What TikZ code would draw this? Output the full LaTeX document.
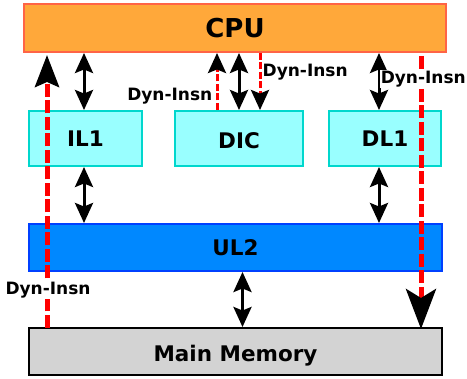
\documentclass[tikz,border=0pt]{standalone}
\usepackage{fontspec}
\setmainfont{DejaVu Sans}
\usetikzlibrary{arrows.meta}
\definecolor{cpufill}{RGB}{255,168,58}
\definecolor{cpuline}{RGB}{255,100,70}
\definecolor{l1fill}{RGB}{153,255,255}
\definecolor{l1line}{RGB}{0,215,205}
\definecolor{l2fill}{RGB}{0,136,255}
\definecolor{l2line}{RGB}{0,64,255}
\definecolor{memfill}{RGB}{211,211,211}
\definecolor{dynred}{RGB}{255,0,0}
\begin{document}
\begin{tikzpicture}[x=1pt,y=-1pt,
  box/.style={draw, line width=2pt, inner sep=0pt, font=\fontsize{21.5}{25}\selectfont\bfseries},
  l1box/.style={box, draw=l1line, fill=l1fill, minimum height=55pt},
  biarrow/.style={line width=3pt, {Stealth[length=20pt,width=18pt,inset=3.5pt]}-{Stealth[length=20pt,width=18pt,inset=3.5pt]}},
  dynsmall/.style={line width=3pt, draw=dynred, dash pattern=on 7pt off 2.5pt, -{Stealth[length=20pt,width=18pt,inset=3.5pt,color=black]}},
  dynbig/.style={line width=5pt, draw=dynred, dash pattern=on 13pt off 3.5pt},
  lbl/.style={font=\fontsize{17}{20}\selectfont\bfseries, inner sep=0.5pt}]
\useasboundingbox (0,0) rectangle (467,379);

\node[box, draw=cpuline, fill=cpufill, minimum width=422pt, minimum height=48pt,
      font=\fontsize{26}{30}\selectfont\bfseries] (cpu) at (235,28) {CPU};
\node[l1box, minimum width=113pt] (il1) at (85.5,138.5) {IL1};
\node[l1box, minimum width=128pt, text height=20.6pt, text depth=0pt] (dic) at (239,138.5) {DIC};
\node[l1box, minimum width=112pt] (dl1) at (385,138.5) {DL1};
\node[box, draw=l2line, fill=l2fill, minimum width=413pt, minimum height=47pt] (ul2) at (235.5,247.5) {UL2};
\node[box, draw=black, fill=memfill, minimum width=413pt, minimum height=47pt, text height=19.6pt, text depth=0pt] (mem) at (235.5,351.5) {Main Memory};

% black bidirectional arrows
\draw[biarrow] ([xshift=-1.5pt]il1.north) -- ([xshift=-1.5pt]il1.north |- cpu.south);
\draw[biarrow] ([xshift=-1.5pt]il1.south) -- ([xshift=-1.5pt]il1.south |- ul2.north);
\draw[biarrow] (dic.north) -- (dic.north |- cpu.south);
\draw[biarrow] ([xshift=-6pt]dl1.north) -- ([xshift=-6pt]dl1.north |- cpu.south);
\draw[biarrow] ([xshift=-6pt]dl1.south) -- ([xshift=-6pt]dl1.south |- ul2.north);
\draw[biarrow] ([xshift=7pt]mem.north) -- ([xshift=7pt]mem.north |- ul2.south);

% small Dyn-Insn arrows at DIC
\draw[dynsmall] ([xshift=-22pt]dic.north) -- ([xshift=-22pt]dic.north |- cpu.south);
\draw[dynsmall] ([xshift=21pt]dic.north |- cpu.south) -- ([xshift=21pt]dic.north);
\node[lbl, anchor=east] (lbla) at (213,96) {Dyn-Insn};
\node[lbl, anchor=west] (lblb) at (262,72) {Dyn-Insn};

% big Dyn-Insn arrows
\coordinate (lbot) at (47,328);
\coordinate (ltop) at (47,55);
\coordinate (rtop) at (421,56);
\coordinate (rbot) at (421,329);
\draw[dynbig, -{Stealth[length=32pt,width=24pt,inset=5pt,color=black]}] (lbot) -- (ltop);
\draw[dynbig, -{Stealth[length=40pt,width=30pt,inset=9pt,color=black]}] (rtop) -- (rbot);
\node[lbl, fill=white] (lblc) at (48,290) {Dyn-Insn};
\node[lbl, fill=white, anchor=east] (lbld) at (466.5,79) {Dyn-Insn};
\end{tikzpicture}
\end{document}
